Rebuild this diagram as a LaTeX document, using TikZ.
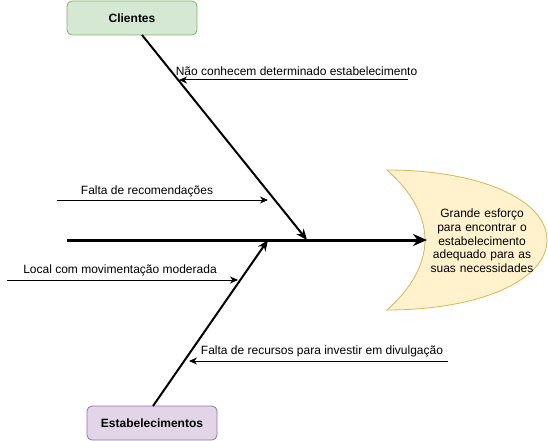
\documentclass[tikz,border=0pt]{standalone}
\usepackage{fontspec}
\setmainfont{Liberation Sans}
\usetikzlibrary{arrows.meta}
\definecolor{cligreen}{HTML}{D5E8D4}
\definecolor{clistroke}{HTML}{82B366}
\definecolor{estpurple}{HTML}{E1D5E7}
\definecolor{eststroke}{HTML}{9673A6}
\definecolor{effyellow}{HTML}{FFF2CC}
\definecolor{effstroke}{HTML}{D6B656}
\tikzset{
  causebox/.style={rounded corners=5pt, minimum width=130pt, minimum height=34pt,
    font=\fontsize{12}{14}\selectfont\bfseries, line width=0.8pt},
  cause/.style={font=\fontsize{12}{14}\selectfont, inner sep=0pt},
  sub/.style={line width=1pt, -{Stealth[length=8pt,width=7pt,inset=2.5pt]}},
  bone/.style={line width=2pt, -{Stealth[length=11pt,width=9pt,inset=3.5pt]}},
  spine/.style={line width=3pt, -{Stealth[length=14pt,width=12pt,inset=4.5pt]}}
}
\begin{document}
\begin{tikzpicture}[x=1pt,y=-1pt]
		\useasboundingbox (0,0) rectangle (548,441);

		\fill[effyellow, draw=effstroke, line width=0.8pt] (387,170) .. controls (480,170) and (547,200) .. (547,240)
			.. controls (547,280) and (480,310) .. (387,310)
			.. controls (410,290) and (425,265) .. (425,240)
			.. controls (425,215) and (410,190) .. (387,170) -- cycle;
		\node[cause, align=center, text width=110pt] (effect) at (482,241)
			{\baselineskip=13.75pt Grande esforço\\para encontrar o\\estabelecimento\\adequado para as\\suas necessidades};

		\node[causebox, fill=cligreen, draw=clistroke] (clientes) at (132,18) {Clientes};
		\node[causebox, fill=estpurple, draw=eststroke] (estab) at (152,423) {Estabelecimentos};

		\coordinate (tail) at (67,240);
		\coordinate (head) at (427,240);
		\coordinate (topjoint) at (307,240);
		\coordinate (botjoint) at (268,240);
		\coordinate (topstart) at (142,35);
		\coordinate (botstart) at (153,406);

		\draw[spine] (tail) -- (head);
		\draw[bone] (topstart) -- (topjoint);
		\draw[bone] (botstart) -- (botjoint);

		\coordinate (a1) at (408,80);
		\coordinate (b1) at (179,80);
		\coordinate (a2) at (57,200);
		\coordinate (b2) at (268,200);
		\coordinate (a3) at (7,280);
		\coordinate (b3) at (238,280);
		\coordinate (a4) at (448,361);
		\coordinate (b4) at (189,361);

		\draw[sub] (a1) -- (b1);
		\draw[sub] (a2) -- (b2);
		\draw[sub] (a3) -- (b3);
		\draw[sub] (a4) -- (b4);

		\node[cause] (l1) at (296.5,71) {Não conhecem determinado estabelecimento};
		\node[cause] (l2) at (147,191) {Falta de recomendações};
		\node[cause] (l3) at (120,270) {Local com movimentação moderada};
		\node[cause] (l4) at (322,351) {Falta de recursos para investir em divulgação};

\end{tikzpicture}
\end{document}
